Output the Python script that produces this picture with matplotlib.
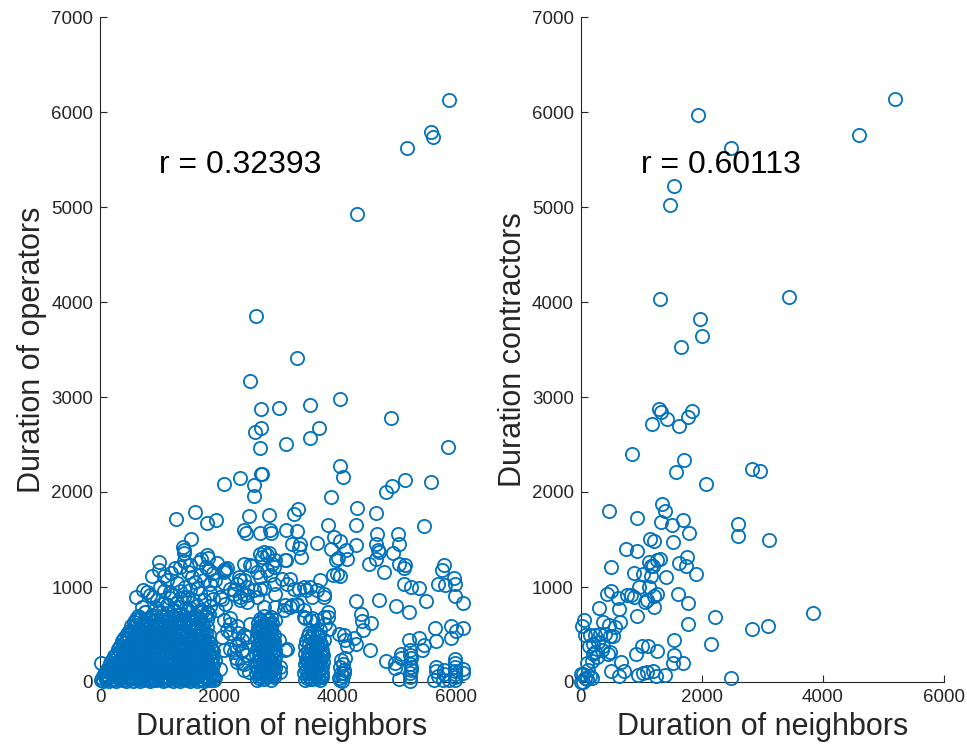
import numpy as np
import matplotlib.pyplot as plt

plt.rcParams['font.family'] = ['Liberation Sans', 'DejaVu Sans']

# ---- left panel: neighbors vs operators ----
# dense block near the origin
ops_dense = [
    (10, 20), (55, 10), (105, 35), (160, 15), (215, 25), (270, 10), (330, 30), (385, 18), (440, 12),
    (500, 28), (555, 15), (610, 35), (670, 10), (725, 22), (780, 40), (840, 12), (895, 25), (950, 18),
    (1010, 30), (1065, 10), (1120, 20), (1180, 35), (1235, 15), (1290, 25), (1350, 12), (1405, 30),
    (1460, 20), (1520, 10), (1575, 38), (1630, 15), (1690, 25), (1745, 12), (1800, 30), (1860, 18), (1915, 22),
    (60, 80), (120, 70), (180, 95), (240, 65), (300, 100), (360, 75), (420, 90), (480, 60), (545, 105),
    (600, 80), (665, 70), (720, 95), (790, 85), (850, 65), (910, 100), (975, 75), (1040, 90), (1100, 60),
    (1160, 105), (1225, 80), (1290, 70), (1350, 95), (1415, 85), (1480, 65), (1540, 100), (1600, 75),
    (1665, 90), (1730, 60), (1790, 105), (1850, 80), (1910, 70),
    (130, 150), (200, 170), (270, 140), (340, 185), (405, 155), (470, 135), (540, 175), (610, 160),
    (680, 145), (745, 190), (815, 150), (880, 170), (950, 140), (1020, 180), (1085, 155), (1150, 135),
    (1220, 175), (1290, 160), (1355, 145), (1425, 185), (1495, 150), (1560, 170), (1630, 140), (1700, 180),
    (1770, 155), (1840, 135), (1905, 175), (20, 200),
    (200, 230), (265, 250), (335, 215), (400, 265), (470, 235), (540, 255), (610, 220), (680, 270),
    (750, 240), (820, 225), (890, 260), (960, 235), (1030, 250), (1100, 215), (1170, 265), (1240, 240),
    (1310, 225), (1380, 260), (1450, 235), (1520, 250), (1590, 220), (1660, 265), (1730, 240), (1800, 225),
    (1870, 255), (1935, 230),
    (270, 300), (340, 330), (410, 295), (480, 345), (550, 315), (625, 300), (695, 340), (765, 320),
    (840, 295), (910, 345), (980, 310), (1050, 330), (1125, 300), (1195, 340), (1265, 315), (1340, 295),
    (1410, 345), (1480, 320), (1555, 300), (1625, 335), (1700, 310), (1770, 345), (1840, 300), (1910, 325),
    (340, 380), (410, 410), (480, 375), (555, 425), (625, 395), (700, 380), (770, 420), (845, 400),
    (915, 375), (990, 425), (1060, 390), (1135, 410), (1205, 380), (1280, 425), (1350, 395), (1425, 375),
    (1495, 420), (1570, 400), (1640, 385), (1715, 425), (1785, 395), (1860, 410),
    (410, 460), (480, 490), (555, 455), (630, 505), (705, 470), (780, 495), (855, 460), (930, 500),
    (1005, 475), (1080, 455), (1155, 505), (1230, 480), (1305, 460), (1380, 500), (1455, 470), (1530, 495),
    (1605, 455), (1680, 505), (1755, 475), (1830, 490),
    (490, 540), (570, 575), (650, 545), (725, 590), (800, 555), (880, 535), (955, 580), (1035, 560),
    (1110, 540), (1190, 585), (1265, 550), (1345, 570), (1420, 540), (1500, 590), (1575, 555), (1655, 575),
    (1730, 545), (1810, 580),
    (570, 630), (650, 660), (735, 620), (815, 665), (900, 640), (980, 615), (1065, 655), (1145, 630),
    (1230, 670), (1310, 640), (1395, 620), (1475, 660), (1560, 635), (1640, 665), (1725, 625), (1805, 650),
    (640, 700), (760, 740), (880, 710), (1000, 750), (1120, 700), (1240, 745), (1360, 715), (1480, 755),
    (1600, 705), (1720, 740), (1840, 720),
]

# second, offset pass through the same block
ops_dense2 = [
    (30, 40), (85, 55), (140, 45), (195, 60), (250, 35), (305, 50), (360, 45), (415, 58), (470, 40),
    (530, 52), (585, 38), (640, 55), (700, 45), (755, 60), (810, 35), (870, 50), (925, 42), (980, 58),
    (1040, 40), (1095, 55), (1150, 45), (1210, 60), (1265, 38), (1320, 52), (1380, 45), (1435, 58),
    (1490, 40), (1550, 55), (1605, 45), (1660, 60), (1720, 35), (1775, 50), (1830, 42), (1890, 55), (1945, 40),
    (95, 115), (155, 125), (215, 110), (275, 130), (335, 115), (395, 120), (455, 110), (515, 130),
    (575, 118), (635, 125), (695, 112), (755, 128), (815, 115), (875, 122), (935, 110), (995, 130),
    (1055, 118), (1115, 125), (1175, 112), (1235, 128), (1295, 115), (1355, 122), (1415, 110), (1475, 130),
    (1535, 118), (1595, 125), (1655, 112), (1715, 128), (1775, 115), (1835, 122), (1895, 110),
    (165, 195), (235, 205), (305, 190), (370, 210), (440, 195), (505, 200), (575, 188), (645, 208),
    (710, 195), (780, 205), (850, 190), (915, 210), (985, 198), (1050, 202), (1120, 190), (1190, 208),
    (1255, 195), (1325, 205), (1390, 190), (1460, 210), (1530, 198), (1595, 202), (1665, 190), (1735, 208),
    (1800, 195), (1870, 205),
    (235, 270), (300, 280), (370, 265), (440, 285), (505, 272), (575, 278), (645, 265), (715, 285),
    (785, 270), (855, 280), (925, 268), (995, 285), (1065, 272), (1135, 278), (1205, 265), (1275, 285),
    (1345, 270), (1415, 280), (1485, 268), (1555, 285), (1625, 272), (1695, 278), (1765, 265), (1835, 285),
    (1900, 270),
    (305, 350), (375, 360), (445, 345), (515, 365), (590, 352), (660, 358), (730, 345), (800, 365),
    (875, 350), (945, 360), (1015, 348), (1090, 365), (1160, 352), (1230, 358), (1300, 345), (1375, 365),
    (1445, 350), (1515, 360), (1590, 348), (1660, 365), (1730, 352), (1800, 358), (1875, 345),
    (375, 430), (445, 440), (520, 425), (590, 445), (665, 432), (735, 438), (810, 425), (880, 445),
    (955, 430), (1025, 440), (1100, 428), (1170, 445), (1245, 432), (1315, 438), (1390, 425), (1460, 445),
    (1535, 430), (1605, 440), (1680, 428), (1750, 445), (1825, 432),
    (450, 510), (525, 520), (600, 505), (670, 525), (745, 512), (820, 518), (895, 505), (970, 525),
    (1045, 510), (1120, 520), (1195, 508), (1270, 525), (1345, 512), (1420, 518), (1490, 505), (1565, 525),
    (1640, 510), (1715, 520), (1790, 508),
    (530, 590), (610, 600), (690, 585), (770, 605), (850, 592), (930, 598), (1010, 585), (1090, 605),
    (1170, 590), (1250, 600), (1330, 588), (1410, 605), (1490, 592), (1570, 598), (1650, 585), (1730, 605),
    (600, 660), (690, 675), (780, 650), (870, 680), (960, 665), (1050, 690), (1140, 655), (1230, 700),
    (1320, 670), (1410, 690), (1500, 660), (1590, 685), (1680, 665), (1770, 690),
]

# looser cloud above the block
ops_cloud = [
    (1002, 1267), (873, 1119), (1081, 1116), (1267, 1197), (1351, 1214), (1520, 1232), (1475, 1162),
    (1548, 1109), (1661, 1267), (1802, 1338), (1813, 1302), (1790, 1207), (1830, 1179), (1971, 1257),
    (2111, 1186), (2094, 1162), (602, 898), (704, 792), (800, 950), (845, 915), (901, 891), (1210, 915),
    (1182, 950), (1408, 898), (1464, 891), (1351, 792), (1633, 986), (1689, 933), (1745, 862), (1577, 686),
    (1520, 774), (1858, 933), (1126, 1074), (1295, 1038), (1436, 1003), (1013, 1003), (957, 862),
    (1126, 810), (1295, 845), (1520, 968), (1745, 1074), (1689, 1126), (1942, 1074), (2083, 1038),
    (2027, 898), (760, 739), (1126, 722), (1802, 739), (732, 968), (1532, 1506), (1398, 1425),
    (1408, 1390), (1420, 1355),
    (950, 780), (1050, 820), (1180, 880), (1250, 760), (1380, 840), (1450, 780), (1560, 860), (1640, 800),
    (1700, 760), (1850, 800), (1900, 870), (1080, 960), (1350, 960), (1600, 1050), (1850, 1030),
    (1000, 1180), (1200, 1150), (1420, 1270), (1700, 1300), (1900, 1150),
]

# vertical stacks at a few neighbor durations
ops_stacks = [
    (2650, 20), (2700, 60), (2760, 30), (2820, 70), (2880, 20), (2930, 50),
    (2670, 120), (2730, 150), (2790, 110), (2850, 160), (2910, 130),
    (2650, 210), (2710, 240), (2770, 200), (2830, 250), (2890, 220), (2940, 190),
    (2680, 300), (2740, 330), (2800, 290), (2860, 340), (2920, 310),
    (2660, 390), (2720, 420), (2780, 380), (2840, 430), (2900, 400),
    (2690, 480), (2750, 510), (2810, 470), (2870, 520), (2930, 490),
    (2670, 570), (2730, 600), (2790, 560), (2850, 610),
    (2700, 660), (2760, 690), (2820, 650), (2880, 680),
    (2630, 90), (2690, 100), (2750, 80), (2810, 120), (2870, 90), (2930, 100),
    (2640, 170), (2700, 190), (2760, 170), (2820, 200), (2880, 180), (2950, 150),
    (2630, 280), (2700, 280), (2760, 260), (2820, 300), (2890, 270), (2950, 260),
    (2650, 350), (2710, 370), (2770, 340), (2830, 380), (2890, 350), (2950, 340),
    (2640, 450), (2700, 450), (2760, 440), (2820, 470), (2880, 450), (2940, 430),
    (2650, 530), (2710, 540), (2770, 520), (2830, 560), (2890, 540),
    (2660, 620), (2720, 640), (2780, 610), (2840, 650), (2900, 620),
    (2675, 45), (2735, 95), (2795, 55), (2855, 115), (2915, 75), (2685, 235), (2745, 210),
    (2805, 245), (2865, 195), (2925, 230), (2675, 415), (2735, 385), (2795, 420), (2855, 390),
    (2915, 440), (2695, 585), (2755, 560), (2815, 590), (2875, 575),
    (3460, 20), (3520, 60), (3580, 30), (3640, 70), (3700, 25), (3750, 55),
    (3480, 130), (3540, 160), (3600, 120), (3660, 170), (3720, 140),
    (3470, 230), (3530, 260), (3590, 220), (3650, 270), (3710, 240), (3760, 210),
    (3500, 330), (3560, 360), (3620, 320), (3680, 370), (3740, 340),
    (3480, 430), (3550, 460), (3620, 420), (3690, 470),
    (3520, 520), (3600, 540), (3680, 510),
    (3440, 90), (3500, 100), (3560, 90), (3620, 100), (3680, 110), (3740, 100),
    (3450, 190), (3510, 200), (3570, 180), (3630, 200), (3690, 190), (3750, 160),
    (3450, 290), (3520, 300), (3580, 280), (3640, 310), (3700, 290), (3760, 280),
    (3460, 380), (3520, 400), (3590, 390), (3660, 410), (3720, 400),
    (3510, 480), (3580, 490), (3650, 480),
    (3490, 45), (3550, 30), (3610, 50), (3670, 40), (3730, 70), (3495, 250), (3555, 215),
    (3615, 255), (3675, 225), (3735, 260),
    (4050, 20), (4030, 40), (4090, 60), (4060, 100), (4120, 130), (4040, 160), (4100, 190),
    (4070, 230), (4130, 250), (4080, 10), (4110, 90),
    (5225, 333), (5225, 193), (5236, 123), (5225, 53), (5236, 158), (5040, 35), (5068, 298), (4968, 200),
    (5230, 90), (5240, 250), (5220, 10),
    (5633, 18), (5661, 158), (5774, 18), (5791, 130), (5983, 246), (5983, 88), (5983, 18), (5983, 158),
    (6120, 140), (5887, 18), (5700, 60), (5980, 50), (5990, 120),
]

# everything else
ops_sparse = [
    (4326, 4925), (5166, 5626), (5577, 5788), (5605, 5742), (5876, 6125), (2636, 3854),
    (3312, 3408), (2535, 3170), (2721, 2875), (3025, 2889), (3538, 2917), (4045, 2977), (4912, 2783),
    (5859, 2478), (2608, 2629), (2710, 2678), (3684, 2678), (3538, 2566), (3143, 2503), (2704, 2461),
    (2721, 2187), (2738, 2190), (4045, 2278), (4096, 2162), (2084, 2082), (2354, 2151), (2591, 2075),
    (2591, 1962), (3898, 1945), (4817, 1997), (4918, 2065), (5149, 2124), (5577, 2110),
    (1284, 1716), (1606, 1787), (1802, 1674), (1960, 1702), (2507, 1749), (2845, 1755), (2422, 1600),
    (2468, 1565), (2704, 1572), (2873, 1600), (2880, 1572), (3138, 1600), (3312, 1590), (3278, 1766),
    (3334, 1825), (3842, 1653), (3943, 1530), (4045, 1488), (4338, 1832), (4310, 1657), (4659, 1783),
    (4665, 1555), (4648, 1456), (4680, 1386), (4700, 1369), (4660, 1298), (5025, 1555), (5043, 1450),
    (4946, 1362), (5043, 1246), (5116, 1204), (5138, 1228), (4535, 1246), (4789, 1158), (5453, 1643),
    (5791, 1235), (5757, 1176), (5116, 1029), (5240, 997), (5380, 994), (5690, 1032), (5814, 1021),
    (5972, 1091), (5989, 1029), (5983, 901), (6120, 831), (5498, 848), (4985, 795), (5211, 732),
    (4704, 867), (4310, 850), (4394, 719), (4563, 616), (4439, 543), (5645, 570), (5915, 588), (6000, 535),
    (6120, 570), (5915, 465), (5211, 444), (5380, 460), (5453, 390), (5425, 337), (5662, 430), (4552, 337),
    (4817, 222), (4969, 152), (5070, 250), (5228, 284), (5662, 114), (5791, 86), (5983, 201), (6120, 100),
    (4310, 400), (4158, 380), (4130, 440), (4028, 510), (3859, 560), (3848, 680), (3920, 1130), (4000, 1140),
    (4045, 1115), (4310, 1437), (3978, 1280), (4017, 1306), (4170, 1300), (4141, 1385), (3898, 1400),
    (3650, 1460), (3368, 1450), (3351, 1410), (3396, 1320), (3228, 1450), (3143, 1280), (2935, 1210),
    (2946, 1280), (4112, 498), (4281, 463), (4422, 639),
    (2055, 878), (2111, 825), (1970, 755), (2083, 649), (2196, 614), (2139, 544), (2055, 474), (2083, 333),
    (2196, 351), (2252, 316), (2336, 404), (2421, 491), (2477, 474), (2393, 333), (2308, 211), (2421, 193),
    (2432, 123), (2505, 105), (2027, 140), (2533, 614), (2252, 930), (2365, 860), (2421, 930), (2308, 1035),
    (2196, 983), (2366, 1074), (2254, 968), (2366, 898), (2479, 846), (2197, 674), (2310, 586), (2197, 516),
    (2330, 520), (2400, 440), (2300, 380), (2390, 330), (2300, 250), (2460, 280), (2400, 200),
    (2567, 1218), (2421, 1246), (2732, 1316), (2815, 1334), (2704, 1344), (2760, 1369), (2844, 1358),
    (2421, 1078), (2336, 1106), (2477, 1000), (2139, 1204), (2083, 1176), (2760, 993), (2704, 983),
    (2647, 895), (2760, 790), (2956, 930), (2956, 790), (2928, 1035), (2590, 965), (2477, 913), (2704, 1106),
    (2815, 1176), (2872, 1123), (2647, 1158), (2900, 1246), (2533, 1228),
    (3068, 1088), (3153, 1035), (3209, 1088), (3265, 983), (3350, 983), (3434, 1000), (3479, 965),
    (3547, 1000), (3575, 895), (3660, 965), (3772, 930), (3772, 895), (3716, 1070), (3322, 807), (3237, 807),
    (3125, 807), (3462, 674), (3575, 674), (3125, 1281), (3012, 439), (3153, 351), (3113, 333), (3040, 158),
    (3040, 105), (2956, 649), (3097, 755), (3209, 790), (3322, 825), (3434, 755), (3434, 684), (3547, 649),
    (3660, 649), (3772, 684), (3840, 737), (3800, 614), (3716, 544), (3772, 439), (3716, 386),
]

# ---- right panel: neighbors vs contractors ----
contr_pts = [
    (5194, 6133), (1938, 5967), (4601, 5754), (2476, 5625), (1543, 5217), (1482, 5017), (1307, 4033),
    (3448, 4050), (1976, 3825), (1998, 3642), (1663, 3529), (1290, 2875), (1334, 2842), (1427, 2771),
    (1180, 2717), (1620, 2692), (1773, 2792), (1839, 2850), (840, 2400), (1702, 2342), (1570, 2208),
    (2833, 2238), (2965, 2217), (2064, 2079), (472, 1804), (933, 1729), (1340, 1875), (1394, 1804),
    (1334, 1683), (1510, 1650), (1691, 1704), (1790, 1571), (2602, 1658), (2591, 1542), (3118, 1500),
    (1142, 1508), (1213, 1483), (1526, 1475), (741, 1396), (922, 1375), (499, 1208), (1131, 1258),
    (1153, 1225), (1252, 1279), (1307, 1296), (1197, 1217), (878, 1146), (1032, 1142), (1158, 1121),
    (1405, 1108), (1625, 1250), (1735, 1217), (1762, 1313), (1910, 1142), (966, 1000), (1131, 1004),
    (769, 912), (829, 912), (878, 896), (1252, 925), (1213, 908), (428, 925), (499, 954), (609, 883),
    (631, 767), (1065, 842), (1098, 858), (1213, 792), (1609, 925), (1773, 829), (307, 775), (922, 696),
    (55, 654), (27, 592), (362, 633), (472, 600), (565, 579), (648, 633), (66, 496), (154, 496), (236, 496),
    (318, 508), (401, 508), (483, 488), (538, 488), (132, 383), (209, 404), (291, 425), (373, 383),
    (236, 321), (346, 342), (456, 300), (483, 321), (1773, 612), (2223, 683), (2833, 563), (3096, 592),
    (3843, 729), (2147, 396), (1543, 446), (1016, 379), (1114, 375), (1252, 325), (911, 292), (1543, 288),
    (664, 208), (494, 121), (714, 121), (1526, 196), (1691, 200), (637, 62), (950, 71), (1021, 100),
    (1098, 108), (1186, 117), (1241, 58), (1389, 71), (2487, 46),
    (99, 196), (181, 217), (264, 258), (209, 292), (126, 125), (44, 83), (0, 83), (71, 42), (181, 42),
    (0, 0), (38, 0), (100, 30), (150, 60),
]

r_left = 'r = 0.32393'
r_right = 'r = 0.60113'

left = np.array(ops_dense + ops_dense2 + ops_cloud + ops_stacks + ops_sparse, dtype=float)
right = np.array(contr_pts, dtype=float)

blue = '#0072BD'
axcol = '#262626'

fig = plt.figure(figsize=(9.67, 7.55), dpi=100)
ax1 = fig.add_axes([100 / 967, 73 / 755, 364 / 967, 665 / 755])
ax2 = fig.add_axes([580.7 / 967, 73 / 755, 363.3 / 967, 665 / 755])

panels = [
    (ax1, left, 6135, 'Duration of operators', r_left),
    (ax2, right, 6000, 'Duration contractors', r_right),
]
for ax, pts, xmax, ylab, rtxt in panels:
    ax.plot(pts[:, 0], pts[:, 1], 'o', mfc='none', mec=blue, ms=9.5, mew=1.3, clip_on=False, zorder=3)
    ax.set_xlim(0, xmax)
    ax.set_ylim(0, 7000)
    ax.set_xticks([0, 2000, 4000, 6000])
    ax.set_yticks(np.arange(0, 7001, 1000))
    for s in ['top', 'right']:
        ax.spines[s].set_visible(False)
    for s in ['left', 'bottom']:
        ax.spines[s].set_color(axcol)
        ax.spines[s].set_linewidth(0.8)
    ax.tick_params(direction='in', length=4.8, width=0.8, color=axcol, labelcolor=axcol,
                   labelsize=13.5, pad=5)
    ax.set_xlabel('Duration of neighbors', fontsize=22, color=axcol, labelpad=4)
    ax.set_ylabel(ylab, fontsize=22, color=axcol, labelpad=3)
    ax.text(1000, 5440, rtxt, fontsize=23, va='center', ha='left', color='black')

fig.savefig('out.png', dpi=100)
